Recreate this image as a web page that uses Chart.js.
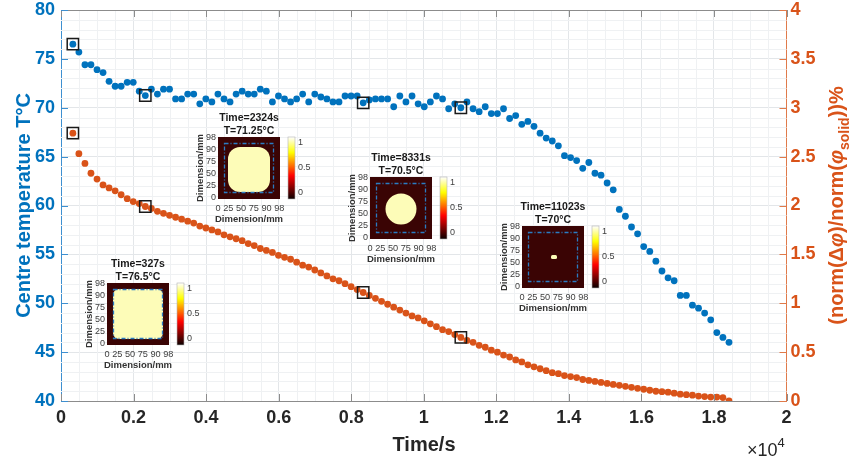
<!DOCTYPE html>
<html lang="en">
<head>
<meta charset="UTF-8">
<title>Centre temperature and solid fraction change</title>
<script src="https://cdn.jsdelivr.net/npm/chart.js"></script>
<style>
  html, body { margin: 0; padding: 0; background: #fff; }
</style>
</head>
<body>
<canvas id="chart" width="854" height="461"></canvas>

<script>
// ---- data ----
const timeS = [327, 493, 660, 826, 993, 1159, 1325, 1492, 1658, 1825, 1991, 2157, 2324,
  2491, 2658, 2825, 2991, 3158, 3325, 3492, 3659, 3826, 3993, 4159, 4326, 4493, 4660, 4827, 4994,
  5161, 5327, 5494, 5661, 5828, 5995, 6162, 6329, 6496, 6662, 6829, 6996, 7163, 7330, 7497, 7664,
  7830, 7997, 8164, 8331,
  8499, 8668, 8836, 9004, 9172, 9341, 9509, 9677, 9845, 10014, 10182, 10350, 10518, 10687, 10855, 11023,
  11191, 11359, 11527, 11695, 11863, 12031, 12199, 12367, 12535, 12703, 12871, 13039, 13207, 13375,
  13543, 13711, 13879, 14047, 14215, 14383, 14551, 14719, 14887, 15055, 15223, 15391, 15559, 15727,
  15895, 16063, 16231, 16399, 16567, 16735, 16903, 17071, 17239, 17407, 17575, 17743, 17911, 18079,
  18247, 18415];

// centre temperature, degC (left axis)
const centreTemp = [76.5, 75.7, 74.4, 74.4, 73.9, 73.6, 72.7, 72.2, 72.2, 72.6,
  72.6, 71.7, 71.25, 71.9, 71.4, 71.9, 71.9, 70.9, 70.9, 71.4,
  71.4, 70.4, 70.9, 70.6, 71.4, 70.9, 70.6, 71.4, 71.7, 71.4,
  71.4, 71.9, 71.7, 70.6, 71.2, 70.9, 70.6, 70.9, 71.4, 70.6,
  71.4, 71.1, 70.9, 70.6, 70.6, 71.2, 71.2, 71.2, 70.5, 70.8,
  70.9, 70.9, 70.9, 70.1, 71.2, 70.6, 71.2, 70.4, 70.1, 70.6,
  71.2, 70.9, 69.9, 70.4, 70.0, 70.6, 69.9, 69.6, 70.1, 69.4,
  69.4, 69.9, 68.9, 69.2, 68.3, 68.6, 68.1, 67.4, 66.9, 66.6,
  66.1, 65.1, 64.9, 64.6, 63.8, 64.4, 63.3, 63.1, 62.3, 61.6,
  59.6, 58.9, 57.8, 57.1, 55.8, 55.3, 54.3, 53.3, 52.6, 52.3,
  50.8, 50.8, 49.8, 49.5, 49.0, 48.3, 47.0, 46.5, 46.0];

// (norm(dphi)/norm(phi_solid)) %, right axis
const phiChange = [2.74, 2.53, 2.43, 2.33, 2.27, 2.21, 2.18, 2.15, 2.11, 2.07,
  2.04, 2.02, 1.99, 1.97, 1.94, 1.92, 1.90, 1.88, 1.86, 1.84,
  1.82, 1.79, 1.77, 1.75, 1.73, 1.70, 1.68, 1.66, 1.64, 1.61,
  1.59, 1.56, 1.54, 1.52, 1.49, 1.47, 1.45, 1.42, 1.39, 1.37,
  1.34, 1.31, 1.28, 1.25, 1.23, 1.20, 1.17, 1.14, 1.11, 1.08,
  1.05, 1.02, 0.99, 0.96, 0.93, 0.90, 0.87, 0.85, 0.82, 0.79,
  0.76, 0.73, 0.71, 0.68, 0.65, 0.62, 0.60, 0.57, 0.55, 0.52,
  0.50, 0.47, 0.45, 0.42, 0.40, 0.37, 0.35, 0.33, 0.31, 0.29,
  0.28, 0.26, 0.25, 0.24, 0.22, 0.21, 0.20, 0.19, 0.18, 0.17,
  0.16, 0.15, 0.14, 0.13, 0.12, 0.11, 0.10, 0.095, 0.09, 0.08,
  0.07, 0.065, 0.06, 0.05, 0.045, 0.04, 0.04, 0.035, 0.0];

// samples that carry a square marker and an inset snapshot
const markIdx = [0, 12, 48, 64];
const snapTitles = ['Time=327s', 'Time=2324s', 'Time=8331s', 'Time=11023s'];
const snapTemps = ['T=76.5°C', 'T=71.25°C', 'T=70.5°C', 'T=70°C'];
const dimTicks = ['98', '90', '75', '50', '25', '0'];
const dimTickRow = '0 25 50 75 90 98';
const cbTicks = ['1', '0.5', '0'];

// ---- layout / style ----
const FONT = "'Liberation Sans', Arial, sans-serif";
const BLUE = '#0072BD';
const ORANGE = '#D95319';
const insetLayout = [
  { x: 107, y: 283, shape: 'square' },
  { x: 218, y: 137, shape: 'rounded' },
  { x: 370, y: 177, shape: 'circle' },
  { x: 522, y: 226, shape: 'spot' }
];

Chart.defaults.font.family = FONT;

// draws a list of text runs centred on 0, on the current baseline
function drawRuns(ctx, runs) {
  let total = 0;
  runs.forEach(r => { ctx.font = r.font; r.w = ctx.measureText(r.t).width; total += r.w; });
  let pos = -total / 2;
  ctx.textAlign = 'left';
  ctx.textBaseline = 'alphabetic';
  runs.forEach(r => { ctx.font = r.font; ctx.fillText(r.t, pos, r.dy || 0); pos += r.w; });
}

function drawInset(ctx, k) {
  const { x: ix, y: iy, shape } = insetLayout[k];
  const S = 62;
  ctx.save();
  ctx.fillStyle = '#1a1a1a';
  ctx.font = `bold 10.5px ${FONT}`;
  ctx.textAlign = 'center';
  ctx.textBaseline = 'middle';
  ctx.fillText(snapTitles[k], ix + S / 2, iy - 19);
  ctx.fillText(snapTemps[k], ix + S / 2, iy - 6);

  // phase map
  ctx.fillStyle = '#3a0404';
  ctx.fillRect(ix, iy, S, S);
  ctx.fillStyle = '#fdfcb8';
  ctx.beginPath();
  if (shape === 'square') ctx.roundRect(ix + 6, iy + 6, 50, 50, 6);
  else if (shape === 'rounded') ctx.roundRect(ix + 10, iy + 10, 42, 45, 12);
  else if (shape === 'circle') ctx.arc(ix + 31, iy + 32, 15.5, 0, 2 * Math.PI);
  else ctx.roundRect(ix + 29, iy + 29, 6, 4, 1.5);
  ctx.fill();
  ctx.strokeStyle = '#2a7cc2';
  ctx.lineWidth = 1.3;
  ctx.setLineDash([4, 2, 1, 2]);
  ctx.strokeRect(ix + 6.5, iy + 6.5, 49, 49);
  ctx.setLineDash([]);

  // colour bar (hot)
  const g = ctx.createLinearGradient(0, iy + S, 0, iy);
  g.addColorStop(0, '#0b0000');
  g.addColorStop(0.375, '#ff0000');
  g.addColorStop(0.75, '#ffff00');
  g.addColorStop(1, '#ffffff');
  ctx.fillStyle = g;
  ctx.fillRect(ix + 70, iy, 7, S);
  ctx.strokeStyle = '#b4b4b4';
  ctx.lineWidth = 0.6;
  ctx.strokeRect(ix + 70, iy, 7, S);

  ctx.fillStyle = '#404040';
  ctx.font = `9px ${FONT}`;
  ctx.textAlign = 'left';
  cbTicks.forEach((t, j) => ctx.fillText(t, ix + 80, iy + 6 + 25 * j));
  ctx.textAlign = 'right';
  dimTicks.forEach((t, j) => ctx.fillText(t, ix - 2, iy + 1 + 12 * j));
  ctx.textAlign = 'center';
  ctx.font = `9.2px ${FONT}`;
  ctx.fillText(dimTickRow, ix + 32, iy + 71);

  ctx.fillStyle = '#333';
  ctx.font = `bold 9.5px ${FONT}`;
  ctx.fillText('Dimension/mm', ix + 31, iy + 82.5);
  ctx.translate(ix - 18, iy + 31);
  ctx.rotate(-Math.PI / 2);
  ctx.fillText('Dimension/mm', 0, 0);
  ctx.restore();
}

const matlabLook = {
  id: 'matlabLook',
  beforeDatasetsDraw(chart) {
    // minor grid
    const { ctx, chartArea: a, scales: { x, y } } = chart;
    ctx.save();
    ctx.strokeStyle = '#eff1f3';
    ctx.lineWidth = 1;
    ctx.beginPath();
    for (let v = 500; v < 20000; v += 500) {
      if (v % 2000 === 0) continue;
      const px = Math.round(x.getPixelForValue(v)) + 0.5;
      ctx.moveTo(px, a.top); ctx.lineTo(px, a.bottom);
    }
    for (let v = 41; v < 80; v++) {
      if (v % 5 === 0) continue;
      const py = Math.round(y.getPixelForValue(v)) + 0.5;
      ctx.moveTo(a.left, py); ctx.lineTo(a.right, py);
    }
    ctx.stroke();
    ctx.restore();
  },
  afterDatasetsDraw(chart) {
    // top box line and inward ticks
    const { ctx, chartArea: a, scales: { x, y, y1 } } = chart;
    ctx.save();
    ctx.lineWidth = 1;
    ctx.strokeStyle = '#8c8c8c';
    ctx.beginPath();
    ctx.moveTo(a.left, a.top + 0.5); ctx.lineTo(a.right, a.top + 0.5);
    x.ticks.forEach(t => {
      const px = Math.round(x.getPixelForValue(t.value)) + 0.5;
      ctx.moveTo(px, a.bottom); ctx.lineTo(px, a.bottom - 7);
      ctx.moveTo(px, a.top); ctx.lineTo(px, a.top + 7);
    });
    ctx.stroke();
    ctx.strokeStyle = '#3d8fd0';
    ctx.beginPath();
    y.ticks.forEach(t => {
      const py = Math.round(y.getPixelForValue(t.value)) + 0.5;
      ctx.moveTo(a.left, py); ctx.lineTo(a.left + 7, py);
    });
    ctx.stroke();
    ctx.strokeStyle = '#e07a4a';
    ctx.beginPath();
    y1.ticks.forEach(t => {
      const py = Math.round(y1.getPixelForValue(t.value)) + 0.5;
      ctx.moveTo(a.right, py); ctx.lineTo(a.right - 7, py);
    });
    ctx.stroke();
    ctx.restore();
  },
  afterDraw(chart) {
    const { ctx, chartArea: a } = chart;
    const midY = (a.top + a.bottom) / 2;
    ctx.save();

    // left title
    ctx.fillStyle = BLUE;
    ctx.save();
    ctx.translate(30, midY);
    ctx.rotate(-Math.PI / 2);
    drawRuns(ctx, [{ t: 'Centre temperature T°C', font: `bold 20px ${FONT}` }]);
    ctx.restore();

    // right title with subscript
    ctx.fillStyle = ORANGE;
    ctx.save();
    ctx.translate(843, midY);
    ctx.rotate(-Math.PI / 2);
    const b = `bold 20px ${FONT}`, bi = `italic bold 20px ${FONT}`;
    drawRuns(ctx, [
      { t: '(norm(Δ', font: b }, { t: 'φ', font: bi }, { t: ')/norm(', font: b },
      { t: 'φ', font: bi }, { t: 'solid', font: `bold 14px ${FONT}`, dy: 6 },
      { t: '))%', font: b }
    ]);
    ctx.restore();

    // x title and exponent
    ctx.fillStyle = '#262626';
    ctx.font = `bold 20px ${FONT}`;
    ctx.textAlign = 'center';
    ctx.textBaseline = 'alphabetic';
    ctx.fillText('Time/s', 424, 451);
    ctx.textAlign = 'left';
    ctx.font = `18px ${FONT}`;
    ctx.fillText('×10', 747, 456);
    const w = ctx.measureText('×10').width;
    ctx.font = `13px ${FONT}`;
    ctx.fillText('4', 747 + w, 447);
    ctx.restore();

    insetLayout.forEach((_, k) => drawInset(ctx, k));
  }
};

const tickFont = { family: FONT, size: 18, weight: 'bold', lineHeight: 1 };
const noPad = s => { s.paddingTop = 0; s.paddingBottom = 0; s.paddingLeft = 0; s.paddingRight = 0; };

new Chart(document.getElementById('chart'), {
  type: 'scatter',
  data: {
    datasets: [
      {
        label: 'Snapshot T',
        data: markIdx.map(i => ({ x: timeS[i], y: centreTemp[i] })),
        yAxisID: 'y',
        pointStyle: 'rect',
        pointRadius: 8,
        backgroundColor: 'rgba(0,0,0,0)',
        borderColor: '#1a1a1a',
        borderWidth: 1.5
      },
      {
        label: 'Snapshot phi',
        data: markIdx.map(i => ({ x: timeS[i], y: phiChange[i] })),
        yAxisID: 'y1',
        pointStyle: 'rect',
        pointRadius: 8,
        backgroundColor: 'rgba(0,0,0,0)',
        borderColor: '#1a1a1a',
        borderWidth: 1.5
      },
      {
        label: 'Centre temperature',
        data: timeS.map((t, i) => ({ x: t, y: centreTemp[i] })),
        yAxisID: 'y',
        pointRadius: 3.4,
        backgroundColor: BLUE,
        borderWidth: 0
      },
      {
        label: 'norm(dphi)/norm(phi_solid)',
        data: timeS.map((t, i) => ({ x: t, y: phiChange[i] })),
        yAxisID: 'y1',
        pointRadius: 3.4,
        backgroundColor: ORANGE,
        borderWidth: 0
      }
    ]
  },
  options: {
    responsive: false,
    animation: false,
    devicePixelRatio: 1,
    layout: { padding: { top: 10, left: 0, right: 0, bottom: 0 } },
    plugins: { legend: { display: false }, tooltip: { enabled: false } },
    scales: {
      x: {
        type: 'linear', position: 'bottom', min: 0, max: 20000,
        ticks: {
          stepSize: 2000, autoSkip: false, maxRotation: 0, padding: 8,
          color: '#262626', font: tickFont,
          callback: v => +(v / 10000).toFixed(1)
        },
        grid: { color: '#e3e6e9', drawTicks: false },
        border: { color: '#8c8c8c' },
        afterFit: s => { s.height = 60; noPad(s); }
      },
      y: {
        position: 'left', min: 40, max: 80,
        ticks: { stepSize: 5, padding: 6, color: BLUE, font: tickFont },
        grid: { color: '#e3e6e9', drawTicks: false },
        border: { color: '#3d8fd0' },
        afterFit: s => { s.width = 61; noPad(s); }
      },
      y1: {
        position: 'right', min: 0, max: 4,
        ticks: {
          stepSize: 0.5, padding: 4, color: ORANGE, font: tickFont,
          callback: v => +v.toFixed(1)
        },
        grid: { drawOnChartArea: false, drawTicks: false },
        border: { color: '#e07a4a' },
        afterFit: s => { s.width = 67.5; noPad(s); }
      }
    }
  },
  plugins: [matlabLook]
});
</script>
</body>
</html>
